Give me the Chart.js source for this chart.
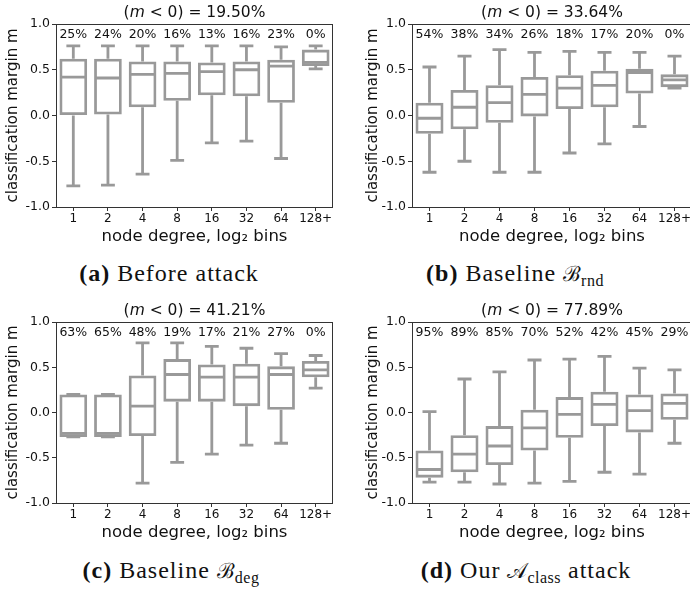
<!DOCTYPE html>
<html>
<head>
<meta charset="utf-8">
<script src="https://cdn.jsdelivr.net/npm/chart.js@4.4.0/dist/chart.umd.min.js"></script>
<style>
body { margin: 0; width: 690px; height: 598px; overflow: hidden; background: #fff; position: relative; }
canvas { position: absolute; }
.cap { position: absolute; font-family: 'Liberation Serif', serif; font-size: 24px; letter-spacing: 1px; color: #111; white-space: nowrap; transform: translateX(-50%); line-height: 1; }
.cap .m { font-family: 'DejaVu Serif', serif; font-size: 21px; letter-spacing: 0; }
.cap sub { font-size: 16px; vertical-align: -5px; line-height: 0; letter-spacing: 0.5px; }
</style>
</head>
<body>
<canvas id="chartA" width="345" height="250" style="left:0;top:0"></canvas>
<canvas id="chartB" width="360" height="250" style="left:345px;top:0"></canvas>
<canvas id="chartC" width="345" height="256" style="left:0;top:290px"></canvas>
<canvas id="chartD" width="360" height="256" style="left:345px;top:290px"></canvas>

<div class="cap" style="left:169px;top:261px"><b>(a)</b> Before attack</div>
<div class="cap" style="left:515px;top:261px"><b>(b)</b> Baseline <span class="m">ℬ</span><sub>rnd</sub></div>
<div class="cap" style="left:171px;top:558px"><b>(c)</b> Baseline <span class="m">ℬ</span><sub>deg</sub></div>
<div class="cap" style="left:526px;top:558px"><b>(d)</b> Our <span class="m">𝒜</span><sub>class</sub> attack</div>

<script>
const bins = ['1', '2', '4', '8', '16', '32', '64', '128+'];
const boxColor = '#999999';

// (a) before attack
const aLow  = [-0.77, -0.76, -0.64, -0.49, -0.30, -0.28, -0.47, 0.51];
const aQ1   = [0.00, 0.01, 0.09, 0.16, 0.22, 0.21, 0.14, 0.54];
const aMed  = [0.42, 0.41, 0.45, 0.46, 0.48, 0.50, 0.54, 0.58];
const aQ3   = [0.62, 0.62, 0.59, 0.59, 0.58, 0.59, 0.61, 0.72];
const aHigh = [0.76, 0.76, 0.76, 0.76, 0.76, 0.76, 0.75, 0.76];
const aPct  = ['25%', '24%', '20%', '16%', '13%', '16%', '23%', '0%'];

// (b) random baseline
const bLow  = [-0.62, -0.50, -0.62, -0.62, -0.41, -0.31, -0.12, 0.30];
const bQ1   = [-0.20, -0.15, -0.08, -0.01, 0.07, 0.09, 0.24, 0.31];
const bMed  = [-0.03, 0.09, 0.14, 0.23, 0.30, 0.33, 0.47, 0.39];
const bQ3   = [0.14, 0.28, 0.33, 0.42, 0.44, 0.49, 0.51, 0.45];
const bHigh = [0.53, 0.65, 0.72, 0.69, 0.70, 0.69, 0.69, 0.65];
const bPct  = ['54%', '38%', '34%', '26%', '18%', '17%', '20%', '0%'];

// (c) degree baseline
const cLow  = [-0.27, -0.27, -0.78, -0.55, -0.46, -0.36, -0.34, 0.27];
const cQ1   = [-0.27, -0.27, -0.26, 0.12, 0.12, 0.07, 0.03, 0.39];
const cMed  = [-0.23, -0.23, 0.07, 0.42, 0.39, 0.39, 0.42, 0.47];
const cQ3   = [0.20, 0.20, 0.41, 0.59, 0.53, 0.54, 0.51, 0.57];
const cHigh = [0.20, 0.20, 0.77, 0.77, 0.73, 0.71, 0.65, 0.63];
const cPct  = ['63%', '65%', '48%', '19%', '17%', '21%', '27%', '0%'];

// (d) our attack
const dLow  = [-0.77, -0.77, -0.79, -0.78, -0.76, -0.66, -0.68, -0.34];
const dQ1   = [-0.72, -0.66, -0.58, -0.42, -0.28, -0.15, -0.22, -0.08];
const dMed  = [-0.63, -0.46, -0.37, -0.17, -0.02, 0.09, 0.02, 0.10];
const dQ3   = [-0.42, -0.25, -0.15, 0.03, 0.17, 0.23, 0.20, 0.21];
const dHigh = [0.01, 0.37, 0.45, 0.58, 0.59, 0.62, 0.49, 0.47];
const dPct  = ['95%', '89%', '85%', '70%', '52%', '42%', '45%', '29%'];

const boxExtras = {
    id: 'boxExtras',
    afterDatasetsDraw(chart, args, opts) {
        const ctx = chart.ctx;
        const y = chart.scales.y;
        const meta = chart.getDatasetMeta(0);
        ctx.save();
        ctx.strokeStyle = boxColor;
        ctx.lineWidth = 2.8;
        ctx.lineCap = 'butt';
        meta.data.forEach((bar, i) => {
            const cx = bar.x;
            const half = bar.width / 2;
            const cap = bar.width / 4;
            const pLow = y.getPixelForValue(opts.low[i]);
            const pHigh = y.getPixelForValue(opts.high[i]);
            const pQ1 = y.getPixelForValue(opts.q1[i]);
            const pQ3 = y.getPixelForValue(opts.q3[i]);
            const pMed = y.getPixelForValue(opts.med[i]);
            ctx.beginPath();
            // whiskers
            if (pHigh < pQ3 - 1) {
                ctx.moveTo(cx, pQ3); ctx.lineTo(cx, pHigh);
            }
            if (pLow > pQ1 + 1) {
                ctx.moveTo(cx, pQ1); ctx.lineTo(cx, pLow);
            }
            // caps
            ctx.moveTo(cx - cap, pHigh); ctx.lineTo(cx + cap, pHigh);
            ctx.moveTo(cx - cap, pLow); ctx.lineTo(cx + cap, pLow);
            // median
            ctx.moveTo(cx - half + 1, pMed); ctx.lineTo(cx + half - 1, pMed);
            ctx.stroke();
        });

        // percentages above boxes
        ctx.fillStyle = '#111';
        ctx.font = '12.5px "DejaVu Sans"';
        ctx.textAlign = 'center';
        ctx.textBaseline = 'middle';
        const py = y.getPixelForValue(0.885);
        meta.data.forEach((bar, i) => {
            ctx.fillText(opts.pct[i], bar.x, py);
        });
        ctx.restore();
    },
    afterDraw(chart, args, opts) {
        const ctx = chart.ctx;
        const area = chart.chartArea;
        ctx.save();
        // frame
        ctx.strokeStyle = '#333';
        ctx.lineWidth = 1;
        ctx.strokeRect(area.left + 0.5, area.top + 0.5, area.right - area.left - 1, area.bottom - area.top);

        // title "(m < 0) = xx%" with italic m
        const parts = [
            ['(', '15.5px "DejaVu Sans"'],
            ['m', 'oblique 15.5px "DejaVu Sans"'],
            [' < 0) = ' + opts.title, '15.5px "DejaVu Sans"']
        ];
        let total = 0;
        parts.forEach(p => { ctx.font = p[1]; total += ctx.measureText(p[0]).width; });
        let x = (area.left + area.right) / 2 - total / 2;
        const ty = area.top - 11;
        ctx.fillStyle = '#111';
        ctx.textBaseline = 'middle';
        ctx.textAlign = 'left';
        parts.forEach(p => {
            ctx.font = p[1];
            ctx.fillText(p[0], x, ty);
            x += ctx.measureText(p[0]).width;
        });
        ctx.restore();
    }
};

function makeBoxChart(id, low, q1, med, q3, high, pct, title, leftWidth, yTitlePad, padTop, padRight) {
    new Chart(document.getElementById(id), {
        type: 'bar',
        data: {
            labels: bins,
            datasets: [{
                data: q1.map((v, i) => [v, q3[i]]),
                backgroundColor: 'rgba(255,255,255,0)',
                borderColor: boxColor,
                borderWidth: 2.8,
                borderSkipped: false,
                barPercentage: 0.8,
                categoryPercentage: 1.0,
            }]
        },
        options: {
            responsive: false,
            animation: false,
            events: [],
            layout: { padding: { top: padTop, right: padRight, left: 0, bottom: 0 } },
            plugins: {
                legend: { display: false },
                tooltip: { enabled: false },
                boxExtras: { low: low, q1: q1, med: med, q3: q3, high: high, pct: pct, title: title }
            },
            scales: {
                x: {
                    afterFit: axis => { axis.height = 43; },
                    grid: { display: true, drawOnChartArea: false, offset: false, tickLength: 4, color: '#333' },
                    border: { display: false },
                    ticks: { color: '#111', font: { family: 'DejaVu Sans', size: 12 }, padding: 1, maxRotation: 0, autoSkip: false },
                    title: { display: true, text: 'node degree, log₂ bins', color: '#111', font: { family: 'DejaVu Sans', size: 16.5 }, padding: { top: 0, bottom: 3 } }
                },
                y: {
                    min: -1, max: 1,
                    afterFit: axis => { axis.width = leftWidth; },
                    grid: { display: true, drawOnChartArea: false, tickLength: 4, color: '#333' },
                    border: { display: false },
                    ticks: {
                        stepSize: 0.5,
                        color: '#111',
                        font: { family: 'DejaVu Sans', size: 12.5 },
                        padding: 2,
                        callback: v => v.toFixed(1)
                    },
                    title: { display: true, text: 'classification margin m', color: '#111', font: { family: 'DejaVu Sans', size: 15 }, padding: { top: yTitlePad, bottom: 0 } }
                }
            }
        },
        plugins: [boxExtras]
    });
}

makeBoxChart('chartA', aLow, aQ1, aMed, aQ3, aHigh, aPct, '19.50%', 56, 4, 24, 12);
makeBoxChart('chartB', bLow, bQ1, bMed, bQ3, bHigh, bPct, '33.64%', 67, 19, 24, 13);
makeBoxChart('chartC', cLow, cQ1, cMed, cQ3, cHigh, cPct, '41.21%', 56, 4, 32, 12);
makeBoxChart('chartD', dLow, dQ1, dMed, dQ3, dHigh, dPct, '77.89%', 67, 19, 32, 13);
</script>
</body>
</html>
